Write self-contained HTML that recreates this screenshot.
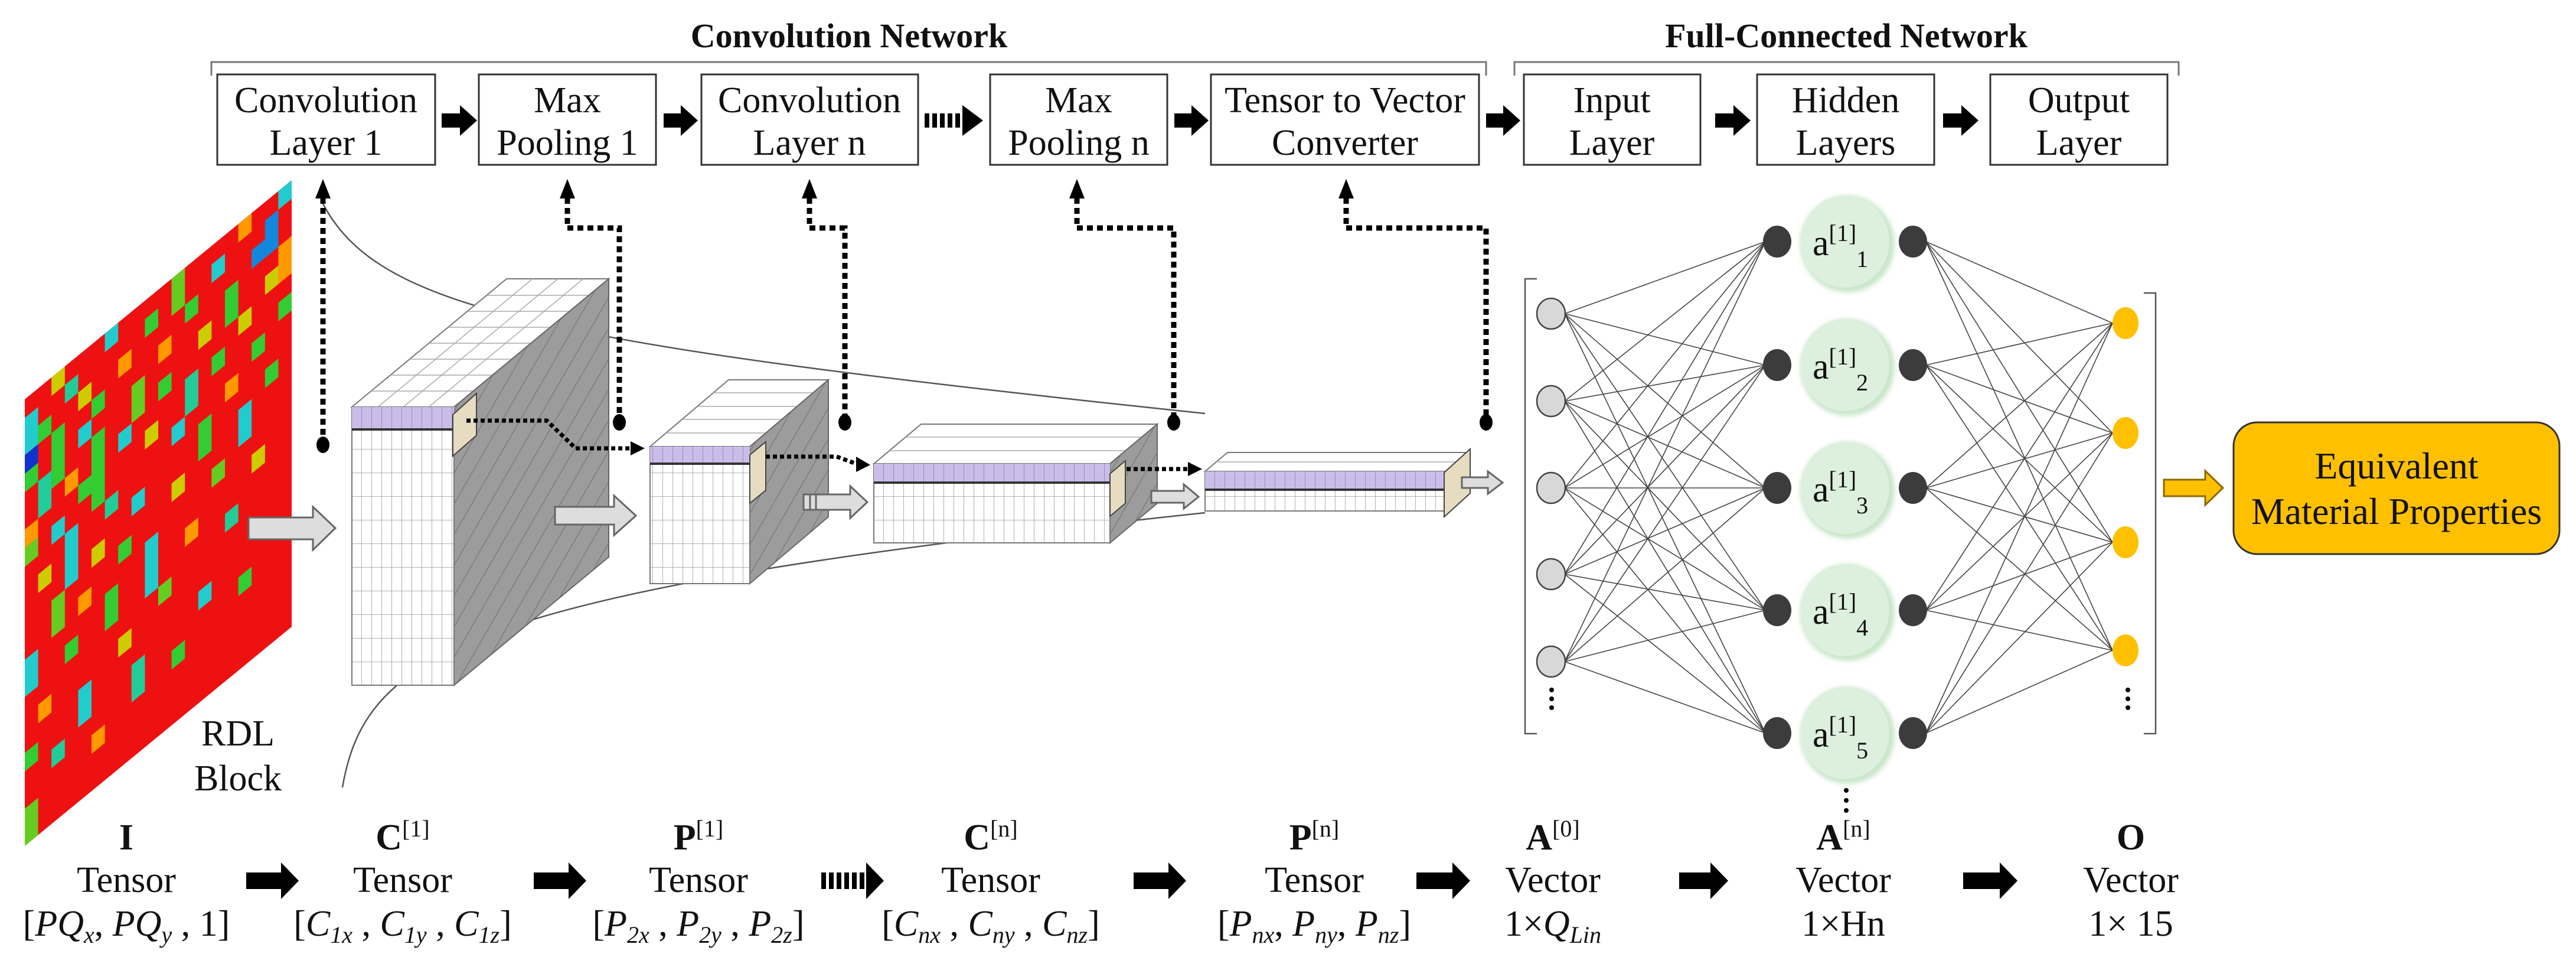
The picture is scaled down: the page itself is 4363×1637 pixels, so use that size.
<!DOCTYPE html>
<html><head><meta charset="utf-8"><style>
html,body{margin:0;padding:0;background:#fff;}
svg{display:block;font-family:"Liberation Serif","DejaVu Serif",serif;}
text{font-family:"Liberation Serif","DejaVu Serif",serif;fill:#111;}
</style></head><body>
<svg width="4363" height="1637" viewBox="0 0 4363 1637" xmlns="http://www.w3.org/2000/svg" font-family="Liberation Serif, DejaVu Serif, serif">
<defs>
<pattern id="hatch" patternUnits="userSpaceOnUse" width="26" height="26" patternTransform="rotate(30)">
<rect width="26" height="26" fill="#9c9c9c"/><line x1="0" y1="0" x2="0" y2="26" stroke="#6e6e6e" stroke-width="2"/></pattern>
<pattern id="grid" patternUnits="userSpaceOnUse" width="17" height="40">
<rect width="17" height="40" fill="#fff"/><path d="M0,0 V40 M0,0 H17" stroke="#9a9a9a" stroke-width="1.5" fill="none"/></pattern>
<pattern id="gridp" patternUnits="userSpaceOnUse" width="17" height="40">
<rect width="17" height="40" fill="#cbbde9"/><path d="M0,0 V40" stroke="#8a7fb0" stroke-width="1.5" fill="none"/></pattern>
<filter id="blur" x="-20%" y="-20%" width="140%" height="140%"><feGaussianBlur stdDeviation="4"/></filter>
</defs>

<!-- titles -->
<text x="1438" y="80" font-size="58" font-weight="bold" text-anchor="middle" font-family="Liberation Serif, serif">Convolution Network</text>
<text x="3127" y="80" font-size="58" font-weight="bold" text-anchor="middle" font-family="Liberation Serif, serif">Full-Connected Network</text>
<path d="M358,128 V105 H2517 V128" fill="none" stroke="#777" stroke-width="3"/>
<path d="M2565,128 V105 H3690 V128" fill="none" stroke="#777" stroke-width="3"/>

<!-- boxes -->
<g fill="#fff" stroke="#333" stroke-width="3">
<rect x="368" y="126" width="369" height="153"/>
<rect x="811" y="126" width="300" height="153"/>
<rect x="1188" y="126" width="367" height="153"/>
<rect x="1677" y="126" width="300" height="153"/>
<rect x="2051" y="126" width="454" height="153"/>
<rect x="2581" y="126" width="299" height="153"/>
<rect x="2976" y="126" width="300" height="153"/>
<rect x="3371" y="126" width="300" height="153"/>
</g>
<g font-size="62" text-anchor="middle" font-family="Liberation Serif, serif">
<text x="552" y="190">Convolution</text><text x="552" y="262">Layer 1</text>
<text x="961" y="190">Max</text><text x="961" y="262">Pooling 1</text>
<text x="1371" y="190">Convolution</text><text x="1371" y="262">Layer n</text>
<text x="1827" y="190">Max</text><text x="1827" y="262">Pooling n</text>
<text x="2278" y="190">Tensor to Vector</text><text x="2278" y="262">Converter</text>
<text x="2730" y="190">Input</text><text x="2730" y="262">Layer</text>
<text x="3126" y="190">Hidden</text><text x="3126" y="262">Layers</text>
<text x="3521" y="190">Output</text><text x="3521" y="262">Layer</text>
</g>
<!-- top arrows -->
<g fill="#000">
<path d="M748,192 H779 V178 L808,204 L779,230 V216 H748 Z"/>
<path d="M1124,192 H1153 V178 L1182,204 L1153,230 V216 H1124 Z"/>
<path d="M1989,192 H2018 V178 L2047,204 L2018,230 V216 H1989 Z"/>
<path d="M2517,192 H2546 V178 L2575,204 L2546,230 V216 H2517 Z"/>
<path d="M2905,192 H2936 V178 L2965,204 L2936,230 V216 H2905 Z"/>
<path d="M3291,192 H3322 V178 L3351,204 L3322,230 V216 H3291 Z"/>
<path d="M1630,178 L1665,204 L1630,230 Z"/>
</g>
<path d="M1566,204 H1632" stroke="#000" stroke-width="24" stroke-dasharray="8,5"/>

<!-- curves -->
<path d="M547,345 C640,520 900,580 2041,700" fill="none" stroke="#555" stroke-width="2.5"/>
<path d="M580,1333 C620,1100 800,1000 2041,868" fill="none" stroke="#555" stroke-width="2.5"/>

<!-- RDL block -->
<g transform="matrix(22.6,-18.55,0,31.5,42,676)">
<rect x="0" y="0" width="20" height="24" fill="#ee1111"/>
<g>
<rect x="0" y="1" width="1" height="2" fill="#22cccc"/><rect x="0" y="3" width="1" height="1" fill="#1133cc"/>
<rect x="0" y="4" width="1" height="1" fill="#33cc33"/><rect x="0" y="7" width="1" height="1" fill="#ff9900"/>
<rect x="0" y="8" width="1" height="1" fill="#66cc22"/><rect x="0" y="14" width="1" height="2" fill="#22cccc"/>
<rect x="0" y="19" width="1" height="1" fill="#33cc33"/><rect x="0" y="22" width="1" height="2" fill="#66cc22"/>
<rect x="1" y="2" width="1" height="1" fill="#33cc33"/><rect x="1" y="5" width="1" height="2" fill="#22cc99"/>
<rect x="1" y="10" width="1" height="1" fill="#cccc00"/><rect x="1" y="17" width="1" height="1" fill="#ff9900"/>
<rect x="2" y="0" width="1" height="1" fill="#cccc00"/><rect x="2" y="3" width="1" height="3" fill="#33cc33"/>
<rect x="2" y="8" width="1" height="1" fill="#22cccc"/><rect x="2" y="12" width="1" height="2" fill="#66cc22"/>
<rect x="2" y="20" width="1" height="1" fill="#22cc99"/>
<rect x="3" y="1" width="1" height="1" fill="#22cc99"/><rect x="3" y="6" width="1" height="1" fill="#ff9900"/>
<rect x="3" y="9" width="1" height="3" fill="#22cccc"/><rect x="3" y="15" width="1" height="1" fill="#33cc33"/>
<rect x="4" y="2" width="1" height="1" fill="#cccc00"/><rect x="4" y="4" width="1" height="1" fill="#22cccc"/>
<rect x="4" y="7" width="1" height="1" fill="#33cc33"/><rect x="4" y="13" width="1" height="1" fill="#ff9900"/>
<rect x="4" y="18" width="1" height="2" fill="#22cccc"/>
<rect x="5" y="3" width="1" height="1" fill="#33cc33"/><rect x="5" y="5" width="1" height="4" fill="#33cc33"/>
<rect x="5" y="11" width="1" height="1" fill="#cccc00"/><rect x="5" y="21" width="1" height="1" fill="#ff9900"/>
<rect x="6" y="0" width="1" height="1" fill="#22cccc"/><rect x="6" y="9" width="1" height="1" fill="#22cc99"/>
<rect x="6" y="14" width="1" height="2" fill="#33cc33"/>
<rect x="7" y="2" width="1" height="1" fill="#ff9900"/><rect x="7" y="6" width="1" height="1" fill="#22cccc"/>
<rect x="7" y="12" width="1" height="1" fill="#33cc33"/><rect x="7" y="17" width="1" height="1" fill="#cccc00"/>
<rect x="8" y="4" width="1" height="2" fill="#66cc22"/><rect x="8" y="10" width="1" height="1" fill="#22cccc"/>
<rect x="8" y="19" width="1" height="2" fill="#22cc99"/>
<rect x="9" y="1" width="1" height="1" fill="#33cc33"/><rect x="9" y="7" width="1" height="1" fill="#cccc00"/>
<rect x="9" y="13" width="1" height="3" fill="#22cccc"/>
<rect x="10" y="3" width="1" height="1" fill="#ff9900"/><rect x="10" y="5" width="1" height="1" fill="#33cc33"/>
<rect x="10" y="16" width="1" height="1" fill="#66cc22"/>
<rect x="11" y="0" width="1" height="2" fill="#66cc22"/><rect x="11" y="8" width="1" height="1" fill="#22cccc"/>
<rect x="11" y="11" width="1" height="1" fill="#cccc00"/><rect x="11" y="20" width="1" height="1" fill="#33cc33"/>
<rect x="12" y="2" width="1" height="1" fill="#33cc33"/><rect x="12" y="6" width="1" height="2" fill="#22cc99"/>
<rect x="12" y="14" width="1" height="1" fill="#ff9900"/>
<rect x="13" y="4" width="1" height="1" fill="#cccc00"/><rect x="13" y="9" width="1" height="2" fill="#33cc33"/>
<rect x="13" y="18" width="1" height="1" fill="#22cccc"/>
<rect x="14" y="1" width="1" height="1" fill="#22cccc"/><rect x="14" y="6" width="1" height="1" fill="#33cc33"/>
<rect x="14" y="12" width="1" height="1" fill="#66cc22"/>
<rect x="15" y="3" width="1" height="2" fill="#33cc33"/><rect x="15" y="8" width="1" height="1" fill="#ff9900"/>
<rect x="15" y="15" width="1" height="1" fill="#22cc99"/>
<rect x="16" y="0" width="1" height="1" fill="#ff9900"/><rect x="16" y="5" width="1" height="1" fill="#cccc00"/>
<rect x="16" y="10" width="1" height="2" fill="#22cccc"/><rect x="16" y="19" width="1" height="1" fill="#33cc33"/>
<rect x="17" y="7" width="1" height="1" fill="#33cc33"/>
<rect x="17" y="2" width="1" height="1" fill="#1188dd"/><rect x="17" y="13" width="1" height="1" fill="#cccc00"/>
<rect x="18" y="1" width="1" height="2" fill="#1188dd"/><rect x="18" y="4" width="1" height="1" fill="#cccc00"/>
<rect x="18" y="9" width="1" height="1" fill="#33cc33"/>
<rect x="19" y="0" width="1" height="1" fill="#22cccc"/><rect x="19" y="3" width="1" height="2" fill="#ff9900"/>
<rect x="19" y="6" width="1" height="1" fill="#33cc33"/>
</g>
</g>
<text x="403" y="1262" font-size="62" text-anchor="middle" font-family="Liberation Serif, serif">RDL</text>
<text x="403" y="1338" font-size="62" text-anchor="middle" font-family="Liberation Serif, serif">Block</text>

<!-- dashed connectors -->
<g fill="none" stroke="#000" stroke-width="9" stroke-dasharray="10,7">
<path d="M547,335 V753"/>
<path d="M961,335 V386 H1049 V715"/>
<path d="M1371,335 V386 H1431 V715"/>
<path d="M1824,335 V386 H1988 V715"/>
<path d="M2280,335 V386 H2517 V715"/>
</g>
<g fill="#000">
<path d="M534,336 L547,303 L560,336 Z"/><path d="M948,336 L961,303 L974,336 Z"/>
<path d="M1358,336 L1371,303 L1384,336 Z"/><path d="M1811,336 L1824,303 L1837,336 Z"/>
<path d="M2267,336 L2280,303 L2293,336 Z"/>
<ellipse cx="547" cy="753" rx="11" ry="14"/><ellipse cx="1049" cy="715" rx="11" ry="14"/>
<ellipse cx="1431" cy="715" rx="11" ry="14"/><ellipse cx="1988" cy="715" rx="11" ry="14"/>
<ellipse cx="2517" cy="715" rx="11" ry="14"/>
</g>

<path d="M421,876 H530 V858 L568,894 L530,931 V913 H421 Z" fill="#ddd" stroke="#666" stroke-width="3"/>

<!-- cube1 -->
<polygon points="596,689 769,689 1031,472 858,472" fill="#fff" stroke="#777" stroke-width="2"/>
<g stroke="#aaa" stroke-width="1.5">
<line x1="628" y1="662" x2="801" y2="662"/><line x1="661" y1="635" x2="834" y2="635"/><line x1="694" y1="608" x2="867" y2="608"/>
<line x1="727" y1="581" x2="900" y2="581"/><line x1="760" y1="554" x2="933" y2="554"/><line x1="793" y1="527" x2="966" y2="527"/><line x1="826" y1="500" x2="999" y2="500"/>
<line x1="640" y1="689" x2="902" y2="472"/><line x1="683" y1="689" x2="945" y2="472"/><line x1="726" y1="689" x2="988" y2="472"/>
</g>
<polygon points="769,689 1031,472 1031,943 769,1160" fill="url(#hatch)" stroke="#666" stroke-width="2"/>
<rect x="596" y="689" width="173" height="471" fill="url(#grid)" stroke="#777" stroke-width="2"/>
<rect x="596" y="689" width="173" height="38" fill="url(#gridp)"/>
<line x1="596" y1="727" x2="769" y2="727" stroke="#333" stroke-width="4"/>
<polygon points="767,702 807,666 807,737 767,772" fill="#e6dcc0" stroke="#444" stroke-width="2"/>
<path d="M940,858 H1040 V839 L1077,873 L1040,906 V888 H940 Z" fill="#ddd" stroke="#666" stroke-width="3"/>
<path d="M790,712 H926 L975,759 H1070" fill="none" stroke="#000" stroke-width="7" stroke-dasharray="7,5"/>
<path d="M1068,747 L1092,759 L1068,771 Z" fill="#000"/>

<!-- cube2 -->
<polygon points="1101,756 1270,756 1403,643 1234,643" fill="#fff" stroke="#777" stroke-width="2"/>
<g stroke="#aaa" stroke-width="1.5">
<line x1="1128" y1="733" x2="1297" y2="733"/><line x1="1155" y1="710" x2="1324" y2="710"/><line x1="1181" y1="688" x2="1350" y2="688"/><line x1="1208" y1="665" x2="1377" y2="665"/>
</g>
<polygon points="1270,756 1403,643 1403,875 1270,988" fill="url(#hatch)" stroke="#666" stroke-width="2"/>
<rect x="1101" y="756" width="169" height="232" fill="url(#grid)" stroke="#777" stroke-width="2"/>
<rect x="1101" y="756" width="169" height="29" fill="url(#gridp)"/>
<line x1="1101" y1="785" x2="1270" y2="785" stroke="#333" stroke-width="4"/>
<polygon points="1270,770 1297,748 1297,830 1270,852" fill="#e6dcc0" stroke="#444" stroke-width="2"/>
<g fill="#ddd" stroke="#666" stroke-width="3">
<path d="M1361,837 H1440 V823 L1469,850 L1440,877 V863 H1361 Z"/>
<line x1="1372" y1="837" x2="1372" y2="863"/><line x1="1382" y1="837" x2="1382" y2="863"/>
</g>
<path d="M1297,773 H1417 L1450,785" fill="none" stroke="#000" stroke-width="7" stroke-dasharray="7,5"/>
<path d="M1450,773 L1474,787 L1450,799 Z" fill="#000"/>

<!-- cube3 -->
<polygon points="1480,785 1880,785 1960,718 1560,718" fill="#fff" stroke="#777" stroke-width="2"/>
<g stroke="#aaa" stroke-width="1.5">
<line x1="1507" y1="763" x2="1907" y2="763"/><line x1="1533" y1="740" x2="1933" y2="740"/>
</g>
<polygon points="1880,785 1960,718 1960,852 1880,919" fill="url(#hatch)" stroke="#666" stroke-width="2"/>
<rect x="1480" y="785" width="400" height="134" fill="url(#grid)" stroke="#777" stroke-width="2"/>
<rect x="1480" y="785" width="400" height="32" fill="url(#gridp)"/>
<line x1="1480" y1="817" x2="1880" y2="817" stroke="#333" stroke-width="4"/>
<polygon points="1880,802 1906,780 1906,852 1880,874" fill="#e6dcc0" stroke="#444" stroke-width="2"/>
<path d="M1950,831 H2005 V820 L2030,841 L2005,861 V851 H1950 Z" fill="#ddd" stroke="#666" stroke-width="3"/>
<path d="M1908,794 H2012" fill="none" stroke="#000" stroke-width="7" stroke-dasharray="7,5"/>
<path d="M2012,782 L2036,794 L2012,806 Z" fill="#000"/>

<!-- cube4 -->
<polygon points="2041,798 2448,798 2486,766 2079,766" fill="#fff" stroke="#777" stroke-width="2"/>
<line x1="2060" y1="782" x2="2467" y2="782" stroke="#aaa" stroke-width="1.5"/>
<rect x="2041" y="798" width="407" height="67" fill="url(#grid)" stroke="#777" stroke-width="2"/>
<rect x="2041" y="798" width="407" height="31" fill="url(#gridp)"/>
<line x1="2041" y1="829" x2="2448" y2="829" stroke="#333" stroke-width="4"/>
<polygon points="2446,800 2490,760 2490,835 2446,875" fill="#e6dcc0" stroke="#444" stroke-width="2"/>
<path d="M2476,808 H2520 V798 L2545,817 L2520,836 V826 H2476 Z" fill="#ddd" stroke="#666" stroke-width="3"/>

<!-- NN brackets -->
<path d="M2603,472 H2583 V1242 H2603" fill="none" stroke="#555" stroke-width="2.5"/>
<path d="M3631,496 H3651 V1242 H3631" fill="none" stroke="#555" stroke-width="2.5"/>

<g stroke="#444" stroke-width="1.6">
<path d="M2650,531 L2990,409 M2650,531 L2990,618 M2650,531 L2990,826 M2650,531 L2990,1033 M2650,531 L2990,1241
M2650,679 L2990,409 M2650,679 L2990,618 M2650,679 L2990,826 M2650,679 L2990,1033 M2650,679 L2990,1241
M2650,826 L2990,409 M2650,826 L2990,618 M2650,826 L2990,826 M2650,826 L2990,1033 M2650,826 L2990,1241
M2650,972 L2990,409 M2650,972 L2990,618 M2650,972 L2990,826 M2650,972 L2990,1033 M2650,972 L2990,1241
M2650,1120 L2990,409 M2650,1120 L2990,618 M2650,1120 L2990,826 M2650,1120 L2990,1033 M2650,1120 L2990,1241
M3262,409 L3578,547 M3262,409 L3578,733 M3262,409 L3578,918 M3262,409 L3578,1101
M3262,618 L3578,547 M3262,618 L3578,733 M3262,618 L3578,918 M3262,618 L3578,1101
M3262,826 L3578,547 M3262,826 L3578,733 M3262,826 L3578,918 M3262,826 L3578,1101
M3262,1033 L3578,547 M3262,1033 L3578,733 M3262,1033 L3578,918 M3262,1033 L3578,1101
M3262,1241 L3578,547 M3262,1241 L3578,733 M3262,1241 L3578,918 M3262,1241 L3578,1101"/>
</g>
<g fill="#d8d8d8" stroke="#444" stroke-width="2.5">
<ellipse cx="2627" cy="531" rx="24" ry="26"/><ellipse cx="2627" cy="679" rx="24" ry="26"/>
<ellipse cx="2627" cy="826" rx="24" ry="26"/><ellipse cx="2627" cy="972" rx="24" ry="26"/>
<ellipse cx="2627" cy="1120" rx="24" ry="26"/>
</g>
<g fill="#000"><circle cx="2628" cy="1168" r="4"/><circle cx="2628" cy="1183" r="4"/><circle cx="2628" cy="1198" r="4"/>
<circle cx="3604" cy="1168" r="4"/><circle cx="3604" cy="1183" r="4"/><circle cx="3604" cy="1198" r="4"/>
<circle cx="3127" cy="1338" r="4"/><circle cx="3127" cy="1355" r="4"/><circle cx="3127" cy="1372" r="4"/></g>
<g fill="#c9e6c9" filter="url(#blur)">
<ellipse cx="3129" cy="413" rx="80" ry="82"/><ellipse cx="3129" cy="622" rx="80" ry="82"/>
<ellipse cx="3129" cy="830" rx="80" ry="82"/><ellipse cx="3129" cy="1037" rx="80" ry="82"/>
<ellipse cx="3129" cy="1245" rx="80" ry="82"/>
</g>
<g fill="#ddf0dd">
<ellipse cx="3125" cy="409" rx="75" ry="78"/><ellipse cx="3125" cy="618" rx="75" ry="78"/>
<ellipse cx="3125" cy="826" rx="75" ry="78"/><ellipse cx="3125" cy="1033" rx="75" ry="78"/>
<ellipse cx="3125" cy="1241" rx="75" ry="78"/>
</g>
<g fill="#3c3c3c">
<ellipse cx="3010" cy="409" rx="24" ry="27"/><ellipse cx="3240" cy="409" rx="24" ry="27"/>
<ellipse cx="3010" cy="618" rx="24" ry="27"/><ellipse cx="3240" cy="618" rx="24" ry="27"/>
<ellipse cx="3010" cy="826" rx="24" ry="27"/><ellipse cx="3240" cy="826" rx="24" ry="27"/>
<ellipse cx="3010" cy="1033" rx="24" ry="27"/><ellipse cx="3240" cy="1033" rx="24" ry="27"/>
<ellipse cx="3010" cy="1241" rx="24" ry="27"/><ellipse cx="3240" cy="1241" rx="24" ry="27"/>
</g>
<g font-size="62" font-family="Liberation Serif, serif">
<text x="3070" y="432">a<tspan font-size="40" dy="-24">[1]</tspan><tspan font-size="40" dy="44">1</tspan></text>
<text x="3070" y="641">a<tspan font-size="40" dy="-24">[1]</tspan><tspan font-size="40" dy="44">2</tspan></text>
<text x="3070" y="849">a<tspan font-size="40" dy="-24">[1]</tspan><tspan font-size="40" dy="44">3</tspan></text>
<text x="3070" y="1056">a<tspan font-size="40" dy="-24">[1]</tspan><tspan font-size="40" dy="44">4</tspan></text>
<text x="3070" y="1264">a<tspan font-size="40" dy="-24">[1]</tspan><tspan font-size="40" dy="44">5</tspan></text>
</g>
<g fill="#ffc000">
<ellipse cx="3600" cy="547" rx="22" ry="27"/><ellipse cx="3600" cy="733" rx="22" ry="27"/>
<ellipse cx="3600" cy="918" rx="22" ry="27"/><ellipse cx="3600" cy="1101" rx="22" ry="27"/>
</g>

<path d="M3665,812 H3735 V797 L3765,826 L3735,855 V840 H3665 Z" fill="#ffc000" stroke="#8a6a00" stroke-width="3"/>
<rect x="3783" y="715" width="552" height="223" rx="40" ry="40" fill="#ffc000" stroke="#333" stroke-width="3"/>
<text x="4059" y="810" font-size="64" text-anchor="middle" font-family="Liberation Serif, serif">Equivalent</text>
<text x="4059" y="887" font-size="64" text-anchor="middle" font-family="Liberation Serif, serif">Material Properties</text>

<g font-size="62" text-anchor="middle" font-family="Liberation Serif, serif">
<text x="214" y="1438" font-weight="bold">I</text>
<text x="682" y="1438"><tspan font-weight="bold">C</tspan><tspan font-size="40" dy="-22">[1]</tspan></text>
<text x="1183" y="1438"><tspan font-weight="bold">P</tspan><tspan font-size="40" dy="-22">[1]</tspan></text>
<text x="1678" y="1438"><tspan font-weight="bold">C</tspan><tspan font-size="40" dy="-22">[n]</tspan></text>
<text x="2226" y="1438"><tspan font-weight="bold">P</tspan><tspan font-size="40" dy="-22">[n]</tspan></text>
<text x="2630" y="1438"><tspan font-weight="bold">A</tspan><tspan font-size="40" dy="-22">[0]</tspan></text>
<text x="3122" y="1438"><tspan font-weight="bold">A</tspan><tspan font-size="40" dy="-22">[n]</tspan></text>
<text x="3609" y="1438" font-weight="bold">O</text>
<text x="214" y="1510">Tensor</text><text x="682" y="1510">Tensor</text><text x="1183" y="1510">Tensor</text>
<text x="1678" y="1510">Tensor</text><text x="2226" y="1510">Tensor</text><text x="2630" y="1510">Vector</text>
<text x="3122" y="1510">Vector</text><text x="3609" y="1510">Vector</text>
<text x="214" y="1584">[<tspan font-style="italic">PQ</tspan><tspan font-size="40" dy="12" font-style="italic">x</tspan><tspan dy="-12">, </tspan><tspan font-style="italic">PQ</tspan><tspan font-size="40" dy="12" font-style="italic">y</tspan><tspan dy="-12"> , 1]</tspan></text>
<text x="682" y="1584">[<tspan font-style="italic">C</tspan><tspan font-size="40" dy="12" font-style="italic">1x</tspan><tspan dy="-12"> , </tspan><tspan font-style="italic">C</tspan><tspan font-size="40" dy="12" font-style="italic">1y</tspan><tspan dy="-12"> , </tspan><tspan font-style="italic">C</tspan><tspan font-size="40" dy="12" font-style="italic">1z</tspan><tspan dy="-12">]</tspan></text>
<text x="1183" y="1584">[<tspan font-style="italic">P</tspan><tspan font-size="40" dy="12" font-style="italic">2x</tspan><tspan dy="-12"> , </tspan><tspan font-style="italic">P</tspan><tspan font-size="40" dy="12" font-style="italic">2y</tspan><tspan dy="-12"> , </tspan><tspan font-style="italic">P</tspan><tspan font-size="40" dy="12" font-style="italic">2z</tspan><tspan dy="-12">]</tspan></text>
<text x="1678" y="1584">[<tspan font-style="italic">C</tspan><tspan font-size="40" dy="12" font-style="italic">nx</tspan><tspan dy="-12"> , </tspan><tspan font-style="italic">C</tspan><tspan font-size="40" dy="12" font-style="italic">ny</tspan><tspan dy="-12"> , </tspan><tspan font-style="italic">C</tspan><tspan font-size="40" dy="12" font-style="italic">nz</tspan><tspan dy="-12">]</tspan></text>
<text x="2226" y="1584">[<tspan font-style="italic">P</tspan><tspan font-size="40" dy="12" font-style="italic">nx</tspan><tspan dy="-12">, </tspan><tspan font-style="italic">P</tspan><tspan font-size="40" dy="12" font-style="italic">ny</tspan><tspan dy="-12">, </tspan><tspan font-style="italic">P</tspan><tspan font-size="40" dy="12" font-style="italic">nz</tspan><tspan dy="-12">]</tspan></text>
<text x="2630" y="1584">1×<tspan font-style="italic">Q</tspan><tspan font-size="40" dy="12" font-style="italic">Lin</tspan></text>
<text x="3122" y="1584">1×Hn</text>
<text x="3609" y="1584">1× 15</text>
</g>
<g fill="#000">
<path d="M417,1477 H476 V1460 L506,1491 L476,1522 V1505 H417 Z"/>
<path d="M904,1477 H963 V1460 L993,1491 L963,1522 V1505 H904 Z"/>
<path d="M1920,1477 H1979 V1460 L2009,1491 L1979,1522 V1505 H1920 Z"/>
<path d="M2399,1477 H2460 V1460 L2490,1491 L2460,1522 V1505 H2399 Z"/>
<path d="M2844,1477 H2897 V1460 L2927,1491 L2897,1522 V1505 H2844 Z"/>
<path d="M3325,1477 H3387 V1460 L3417,1491 L3387,1522 V1505 H3325 Z"/>
<path d="M1467,1460 L1497,1491 L1467,1522 Z"/>
</g>
<path d="M1391,1491 H1469" stroke="#000" stroke-width="28" stroke-dasharray="8,5"/>
</svg>
</body></html>
